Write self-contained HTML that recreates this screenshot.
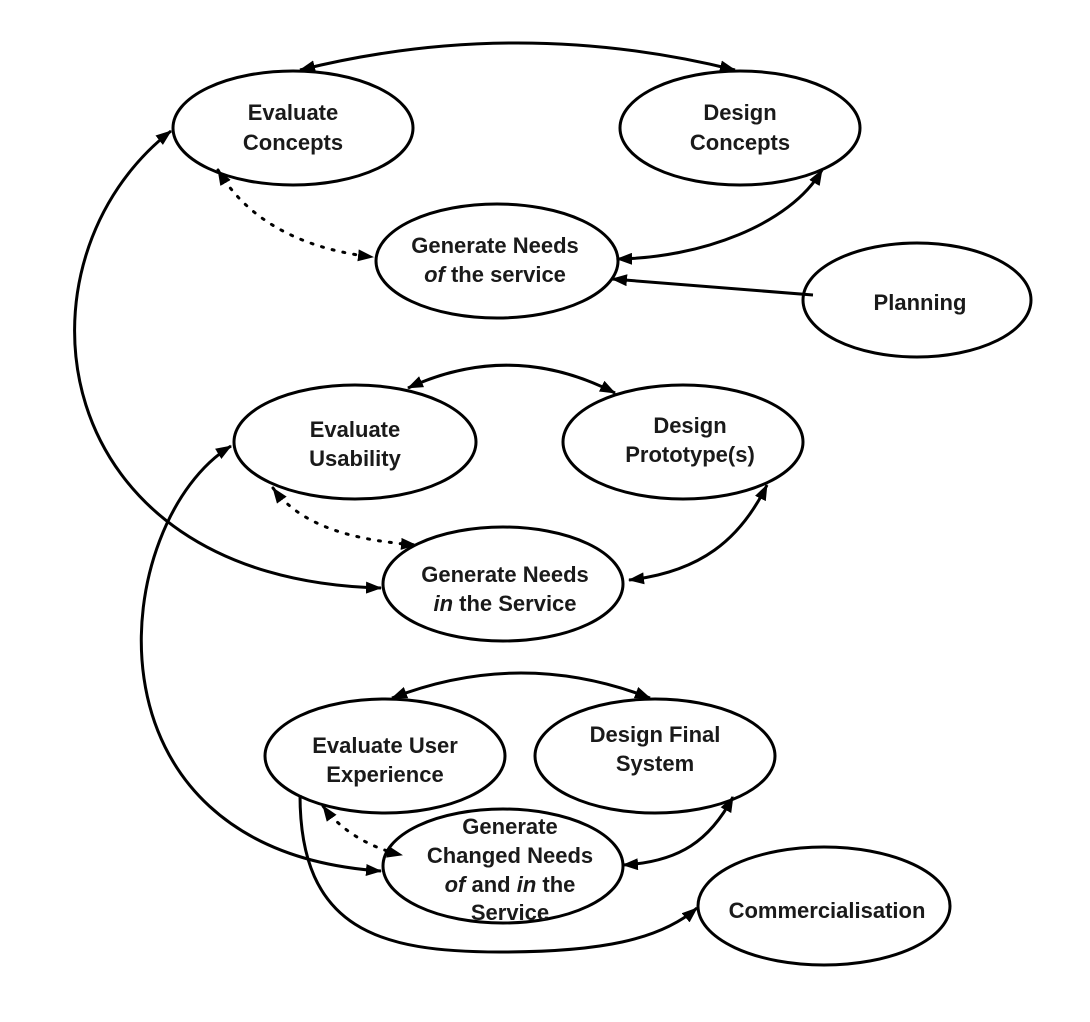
<!DOCTYPE html>
<html><head><meta charset="utf-8"><style>
html,body{margin:0;padding:0;background:#fff;}
svg{display:block;}
text{font-family:"Liberation Sans",Arial,sans-serif;font-weight:bold;font-size:22px;fill:#1a1a1a;text-anchor:middle;}
</style></head><body>
<svg width="1090" height="1022" viewBox="0 0 1090 1022" xmlns="http://www.w3.org/2000/svg">
<defs>
<marker id="a" viewBox="0 0 16 12" refX="15" refY="6" markerWidth="16" markerHeight="12" markerUnits="userSpaceOnUse" orient="auto-start-reverse">
<path d="M0,0 L16,6 L0,12 z" fill="#000"/>
</marker>
</defs>
<g fill="none" stroke="#000" stroke-width="3">
<!-- ellipses -->
<ellipse cx="293" cy="128" rx="120" ry="57"/>
<ellipse cx="740" cy="128" rx="120" ry="57"/>
<ellipse cx="497" cy="261" rx="121" ry="57"/>
<ellipse cx="917" cy="300" rx="114" ry="57"/>
<ellipse cx="355" cy="442" rx="121" ry="57"/>
<ellipse cx="683" cy="442" rx="120" ry="57"/>
<ellipse cx="503" cy="584" rx="120" ry="57"/>
<ellipse cx="385" cy="756" rx="120" ry="57"/>
<ellipse cx="655" cy="756" rx="120" ry="57"/>
<ellipse cx="503" cy="866" rx="120" ry="57"/>
<ellipse cx="824" cy="906" rx="126" ry="59"/>
<!-- connectors -->
<path d="M300,70 Q517,16 735,70" marker-start="url(#a)" marker-end="url(#a)"/>
<path d="M822,170 C790,225 700,258 617,259" marker-start="url(#a)" marker-end="url(#a)"/>
<path d="M813,295 L612,279" marker-end="url(#a)"/>
<path d="M218,170 C250,225 310,250 373,257" stroke-dasharray="2 9" stroke-linecap="round" marker-start="url(#a)" marker-end="url(#a)"/>
<path d="M171,131 C5,260 40,580 381,588" marker-start="url(#a)" marker-end="url(#a)"/>
<path d="M408,388 Q512,340 615,393" marker-start="url(#a)" marker-end="url(#a)"/>
<path d="M767,485 C740,540 700,572 629,580" marker-start="url(#a)" marker-end="url(#a)"/>
<path d="M273,488 C300,525 350,540 416,545" stroke-dasharray="2 9" stroke-linecap="round" marker-start="url(#a)" marker-end="url(#a)"/>
<path d="M231,446 C110,520 70,850 381,871" marker-start="url(#a)" marker-end="url(#a)"/>
<path d="M392,698 Q521,648 650,698" marker-start="url(#a)" marker-end="url(#a)"/>
<path d="M733,797 C710,840 680,862 623,865" marker-start="url(#a)" marker-end="url(#a)"/>
<path d="M323,806 C340,830 370,848 402,855" stroke-dasharray="2 9" stroke-linecap="round" marker-start="url(#a)" marker-end="url(#a)"/>
<path d="M300,795 C300,930 380,952 500,952 C600,952 660,940 697,908" marker-end="url(#a)"/>
</g>
<g>
<text x="293" y="120">Evaluate</text><text x="293" y="150">Concepts</text>
<text x="740" y="120">Design</text><text x="740" y="150">Concepts</text>
<text x="495" y="253">Generate Needs</text><text x="495" y="282"><tspan font-style="italic">of</tspan> the service</text>
<text x="920" y="310">Planning</text>
<text x="355" y="437">Evaluate</text><text x="355" y="466">Usability</text>
<text x="690" y="433">Design</text><text x="690" y="462">Prototype(s)</text>
<text x="505" y="582">Generate Needs</text><text x="505" y="611"><tspan font-style="italic">in</tspan> the Service</text>
<text x="385" y="753">Evaluate User</text><text x="385" y="782">Experience</text>
<text x="655" y="742">Design Final</text><text x="655" y="771">System</text>
<text x="510" y="834">Generate</text><text x="510" y="863">Changed Needs</text>
<text x="510" y="892"><tspan font-style="italic">of</tspan> and <tspan font-style="italic">in</tspan> the</text><text x="510" y="920">Service</text>
<text x="827" y="918" font-size="23">Commercialisation</text>
</g>
</svg>
</body></html>
